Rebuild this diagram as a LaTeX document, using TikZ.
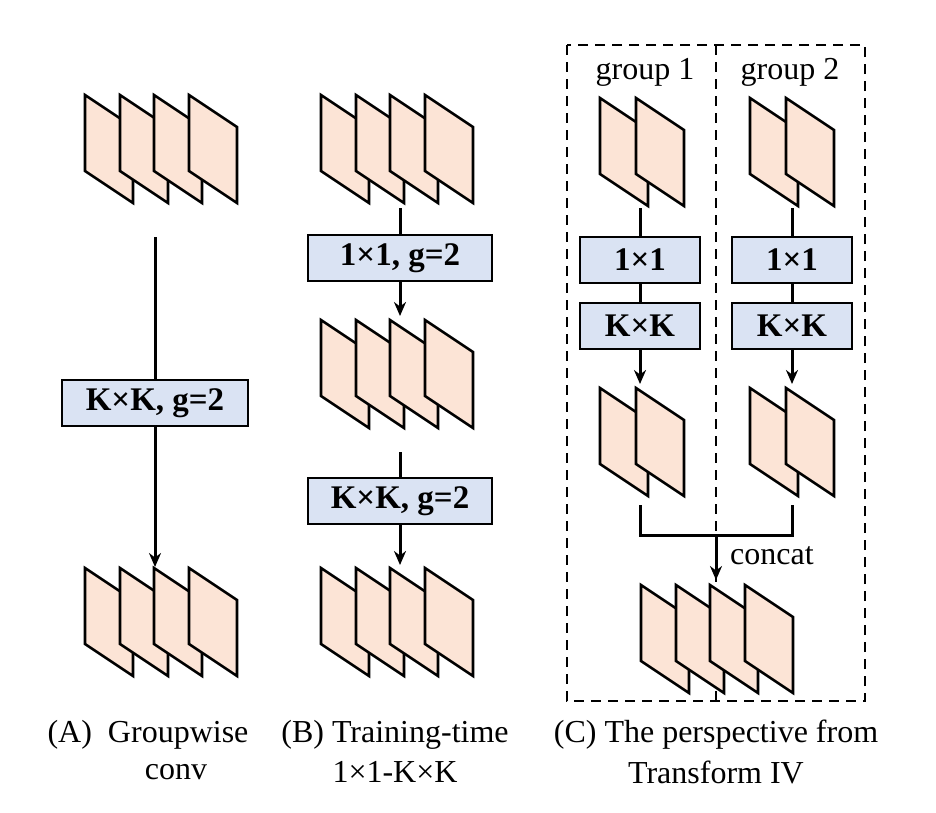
\documentclass[tikz,border=0pt]{standalone}
\usepackage{fontspec}
\setmainfont{Liberation Serif}
\usetikzlibrary{arrows.meta}
\begin{document}
\begin{tikzpicture}[x=1pt,y=-1pt,
  sheet/.style={fill={rgb,255:red,252;green,228;blue,214},draw=black,line width=2.6pt,line join=miter},
  box/.style={draw=black,line width=2pt,fill={rgb,255:red,218;green,227;blue,243},minimum height=46pt,inner sep=0pt,font=\fontsize{33}{36}\selectfont\bfseries},
  ln/.style={line width=3pt},
  arr/.style={line width=3pt,-{Stealth[length=14pt,width=12pt]}},
  txt/.style={font=\fontsize{32}{36}\selectfont,inner sep=0pt},
  dsh/.style={line width=2pt,dash pattern=on 10pt off 7pt}]
\useasboundingbox (0,0) rectangle (936,812);
\newcommand\sheetat[2]{\filldraw[sheet] (#1,#2) -- ++(48,32) -- ++(0,76) -- ++(-48,-32) -- cycle;}
\newcommand\fourat[2]{\sheetat{#1}{#2}\sheetat{#1+35}{#2}\sheetat{#1+69}{#2}\sheetat{#1+104}{#2}}
\newcommand\twoat[2]{\sheetat{#1}{#2}\sheetat{#1+36}{#2}}
% column A
\fourat{85}{95}
\fourat{85}{568}
\node[box,minimum width=186pt] (ka) at (155,403) {K×K, g=2};
\coordinate (a1) at (155,237);
\coordinate (a2) at (155,567);
\draw[ln] (a1) -- (ka.north);
\draw[arr] (ka.south) -- (a2);
% column B
\fourat{321}{95}
\fourat{321}{320}
\fourat{321}{568}
\node[box,minimum width=184pt] (b1) at (400,258) {1×1, g=2};
\node[box,minimum width=184pt] (b2) at (400,501) {K×K, g=2};
\coordinate (bt) at (400,208);
\coordinate (bm) at (400,316);
\coordinate (bn) at (400,452);
\coordinate (bb) at (400,565);
\draw[ln] (bt) -- (b1.north);
\draw[arr] (b1.south) -- (bm);
\draw[ln] (bn) -- (b2.north);
\draw[arr] (b2.south) -- (bb);
% column C
\draw[dsh] (567,45) rectangle (865,701);
\draw[dsh] (716,45) -- (716,701);
\node[txt] (g1) at (645,72) {group 1};
\node[txt] (g2) at (790,72) {group 2};
\twoat{600}{98}
\twoat{750}{98}
\twoat{600}{388}
\twoat{750}{388}
\node[box,minimum width=120pt] (c1) at (640,260) {1×1};
\node[box,minimum width=120pt] (c2) at (640,326) {K×K};
\node[box,minimum width=120pt] (d1) at (792,260) {1×1};
\node[box,minimum width=120pt] (d2) at (792,326) {K×K};
\coordinate (ct) at (640,208);
\coordinate (dt) at (792,208);
\coordinate (cb) at (640,384);
\coordinate (db) at (792,384);
\draw[ln] (ct) -- (c1.north);
\draw[ln] (c1.south) -- (c2.north);
\draw[arr] (c2.south) -- (cb);
\draw[ln] (dt) -- (d1.north);
\draw[ln] (d1.south) -- (d2.north);
\draw[arr] (d2.south) -- (db);
\coordinate (cl) at (640,505);
\coordinate (cr) at (792,505);
\coordinate (cm) at (716,535);
\coordinate (ce) at (716,580);
\draw[ln,line join=miter] (cl) |- (cm) -| (cr);
\draw[arr] (cm) -- (ce);
\node[txt,anchor=west] (cc) at (730,556) {concat};
\fourat{641}{585}
% captions
\node[txt] (ca1) at (148,735) {(A)\ \ Groupwise};
\node[txt] (ca2) at (176,772) {conv};
\node[txt] (cb1) at (395,735) {(B) Training-time};
\node[txt] (cb2) at (395,772) {1×1-K×K};
\node[txt] (cc1) at (716,735) {(C) The perspective from};
\node[txt] (cc2) at (716,772) {Transform IV};
\end{tikzpicture}
\end{document}
